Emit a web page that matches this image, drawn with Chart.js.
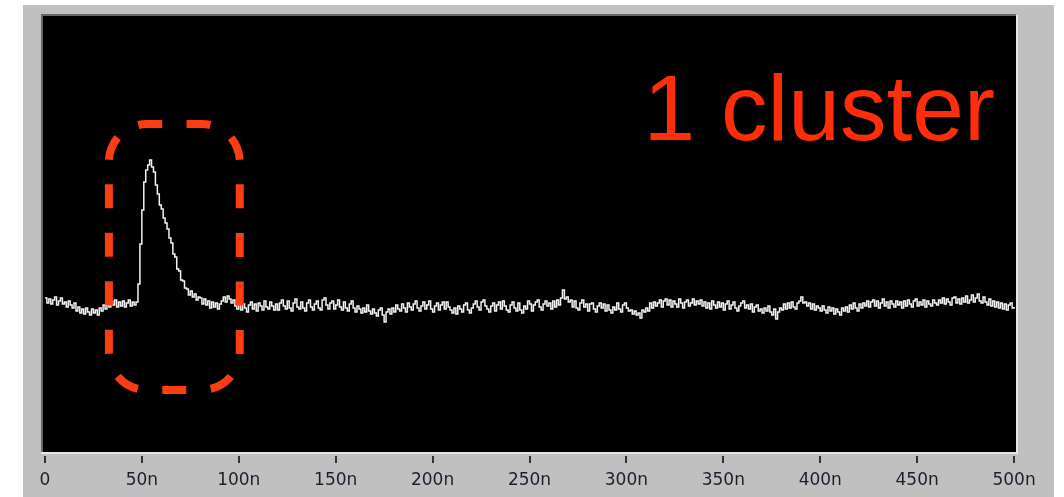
<!DOCTYPE html>
<html>
<head>
<meta charset="utf-8">
<script src="https://cdn.jsdelivr.net/npm/chart.js@4.4.1/dist/chart.umd.min.js"></script>
<style>
  html, body { margin: 0; padding: 0; background: #ffffff; }
  #wrap { position: relative; width: 1064px; height: 497px; }
</style>
</head>
<body>
<div id="wrap"><canvas id="scope" width="1064" height="497"></canvas></div>
<script>
// Oscilloscope trace: one sample per nanosecond, amplitude in arbitrary units (baseline = 0)
const sampleStepNs = 1;
const preTrigger = [
  8, 3, 7, 2, 6, 9, 1, 5, 8, 2, 4, -1, 5, 1, -2, 3, -5, -1, -7, -3,
  -8, -2, -6, -9, -3, -7, -4, -9, -2, -5, 1, -3, 4, -1, 5, 1, 6, -1, 4, 0,
  5, -1, 3, 6, 0, 4, 1
];
const clusterPulse = [
  4, 22, 62, 96, 124, 136, 141, 146, 139, 134, 121, 112, 101, 97, 88, 83, 77, 68, 63, 52,
  49, 37, 35, 26, 25, 18, 17, 11, 15, 9, 12, 6, 9, 8, 2, 7, 1, 5, -2, 4,
  -1, 3, -3, 2
];
const tailNoise = [
  5, 9, 4, 10, 7, 3, 6, 0, -3,
  3, -4, 2, -2, -6, 1, 4, -3, 2, -5, 3, 0, -4, 5, -1, -3, 4, 0, -4, 2,
  -4, 3, 6, 0, -3, 5, -2, -5, 3, 7, -1, -3, 4, -2, -5, 3, 6, -1, -4, 2,
  5, -2, -4, 6, 8, 1, -3, 3, 5, -3, 1, 6, -1, -4, 4, -2, -5, 2, 5, -2,
  -6, 0, -3, -7, -2, -6, 1, -5, -8, -3, -7, -10, -4, -2, -9, -16, -6, -3, -8, -2,
  -6, 1, -3, -5, 2, -2, -6, 3, -1, -4, 2, 5, -2, -5, 0, 4, -3, 1, 5, -3,
  -6, 0, 3, -4, 1, 4, -3, 4, -1, -4, -7, -2, -8, 0, -3, -6, 1, 3, -4, -7,
  -2, 2, 5, -1, -4, 4, 6, 0, -3, -6, 0, 3, -5, 1, 4, -3, 5, 0, -4, -6,
  1, 4, -2, -5, 3, -4, -7, 0, -3, 5, 2, -5, 1, 4, 6, -1, -4, 2, 5, 0,
  3, -3, 5, -1, 6, 1, 8, 16, 7, 9, 4, 6, -1, 5, -2, -4, 3, 6, -1, 2,
  -5, 2, 3, -3, -6, 0, 3, -2, 2, -5, 1, -4, -7, -1, -4, 3, -3, -6, 1, 3,
  -2, -5, -4, -8, -5, -9, -7, -12, -4, -6, -2, -5, 3, -2, 4, 0, 3, 6, -1, 5,
  7, 1, 6, -1, 5, 2, -1, 7, 3, -2, 4, 6, 0, 3, 7, 1, 5, 2, 6, 0,
  4, -2, 3, -3, 5, 1, -2, 4, -1, 3, -4, 2, 5, -3, 1, 4, -2, -5, 0, 3,
  5, -2, 1, -3, 2, -6, -1, 1, -5, -3, -7, -2, -5, 0, -6, -9, -3, -13, -6, -2,
  -4, 2, -3, 3, -2, 4, -1, -3, 3, 5, 9, 3, 4, 0, 3, -3, 2, -4, 0, -2,
  -5, 0, -4, -7, -1, -5, -2, -8, -3, -6, -9, -2, -5, -1, -6, 1, -3, 3, -2, -5,
  2, -2, 3, 0, 5, -1, 4, 6, 0, 5, -2, 3, 7, 0, 4, -2, 5, 2, -1, 5,
  1, 4, -2, 5, 0, 6, 2, -1, 5, 7, 0, 4, 1, 6, -1, 5, 2, 0, 6, 3,
  1, 6, 3, 8, 2, 7, 4, 1, 8, 9, 3, 7, 2, 8, 4, 10, 3, 6, 11, 4,
  8, 12, 5, 3, 9, 4, 1, 7, 0, 5, -1, 4, -2, 3, -3, 2, -4, 1, 3, -2, -1
];
const tickValuesNs = [0, 50, 100, 150, 200, 250, 300, 350, 400, 450, 500];
const tickLabels = ['0', '50n', '100n', '150n', '200n', '250n', '300n', '350n', '400n', '450n', '500n'];

// Highlight around the single cluster pulse (time range in ns, amplitude range)
const clusterBoxNs = [33, 100.5];
const clusterBoxLevel = [-84, 182];
const annotationText = '1 cluster';

const signal = preTrigger.concat(clusterPulse, tailNoise);
const points = signal.map((v, i) => ({ x: i * sampleStepNs, y: v }));

// closed rounded rectangle path that starts and ends at the top centre (clockwise)
function roundedBoxFromTop(ctx, left, top, right, bottom, r) {
  const cx = (left + right) / 2;
  ctx.beginPath();
  ctx.moveTo(cx, top);
  ctx.lineTo(right - r, top);
  ctx.arc(right - r, top + r, r, -Math.PI / 2, 0);
  ctx.lineTo(right, bottom - r);
  ctx.arc(right - r, bottom - r, r, 0, Math.PI / 2);
  ctx.lineTo(left + r, bottom);
  ctx.arc(left + r, bottom - r, r, Math.PI / 2, Math.PI);
  ctx.lineTo(left, top + r);
  ctx.arc(left + r, top + r, r, Math.PI, Math.PI * 1.5);
  ctx.lineTo(cx, top);
  ctx.stroke();
}

const scopeFrame = {
  id: 'scopeFrame',
  beforeDraw(chart) {
    const { ctx, chartArea: a } = chart;
    ctx.save();
    ctx.fillStyle = '#ffffff';
    ctx.fillRect(0, 0, chart.width, chart.height);
    ctx.fillStyle = '#c0c0c0';
    ctx.fillRect(23, 5, 1031, 492);
    ctx.fillStyle = '#000000';
    ctx.fillRect(a.left, a.top, a.right - a.left, a.bottom - a.top);
    // sunken bevel
    ctx.lineWidth = 2;
    ctx.strokeStyle = '#666666';
    ctx.beginPath();
    ctx.moveTo(a.left - 1, a.bottom);
    ctx.lineTo(a.left - 1, a.top - 1);
    ctx.lineTo(a.right, a.top - 1);
    ctx.stroke();
    ctx.strokeStyle = '#e6e6e6';
    ctx.beginPath();
    ctx.moveTo(a.right + 1, a.top - 1);
    ctx.lineTo(a.right + 1, a.bottom + 1);
    ctx.lineTo(a.left - 2, a.bottom + 1);
    ctx.stroke();
    ctx.restore();
  },
  afterDraw(chart) {
    const { ctx, chartArea: a } = chart;
    const xs = chart.scales.x, ys = chart.scales.y;
    ctx.save();
    ctx.lineCap = 'butt';
    ctx.lineJoin = 'miter';
    // tick marks under the screen
    ctx.strokeStyle = '#333333';
    ctx.lineWidth = 2;
    tickValuesNs.forEach(v => {
      const px = Math.round(xs.getPixelForValue(v));
      ctx.beginPath();
      ctx.moveTo(px, a.bottom + 4);
      ctx.lineTo(px, a.bottom + 11);
      ctx.stroke();
    });
    // dashed rounded box around the pulse
    const x0 = xs.getPixelForValue(clusterBoxNs[0]);
    const x1 = xs.getPixelForValue(clusterBoxNs[1]);
    const y0 = ys.getPixelForValue(clusterBoxLevel[1]);
    const y1 = ys.getPixelForValue(clusterBoxLevel[0]);
    ctx.strokeStyle = '#fc3d14';
    ctx.lineWidth = 8;
    ctx.setLineDash([24, 24.55]);
    ctx.lineDashOffset = 36.3;
    roundedBoxFromTop(ctx, x0, y0, x1, y1, 38);
    ctx.setLineDash([]);
    // label
    ctx.fillStyle = '#ff2d0a';
    ctx.font = '93px "Liberation Sans", Arial, sans-serif';
    ctx.textAlign = 'right';
    ctx.textBaseline = 'alphabetic';
    ctx.fillText(annotationText, 995, 140);
    ctx.restore();
  }
};

new Chart(document.getElementById('scope'), {
  type: 'line',
  data: {
    datasets: [{
      data: points,
      borderColor: '#f2f2f2',
      borderWidth: 1.5,
      pointRadius: 0,
      stepped: true,
      fill: false
    }]
  },
  options: {
    responsive: false,
    animation: false,
    events: [],
    layout: { padding: { left: 43, top: 16, right: 48, bottom: 0 } },
    plugins: { legend: { display: false }, tooltip: { enabled: false }, title: { display: false } },
    scales: {
      x: {
        type: 'linear',
        min: -1,
        max: 501,
        afterBuildTicks(scale) { scale.ticks = tickValuesNs.map(v => ({ value: v })); },
        afterFit(scale) { scale.height = 45; },
        grid: { display: false, drawTicks: false },
        border: { display: false },
        ticks: {
          padding: 18,
          maxRotation: 0,
          autoSkip: false,
          color: '#1e1e2e',
          font: { family: '"DejaVu Sans", Verdana, sans-serif', size: 17 },
          callback(value) { const i = tickValuesNs.indexOf(value); return i >= 0 ? tickLabels[i] : ''; }
        }
      },
      y: {
        display: false,
        min: -146,
        max: 290
      }
    }
  },
  plugins: [scopeFrame]
});
</script>
</body>
</html>
